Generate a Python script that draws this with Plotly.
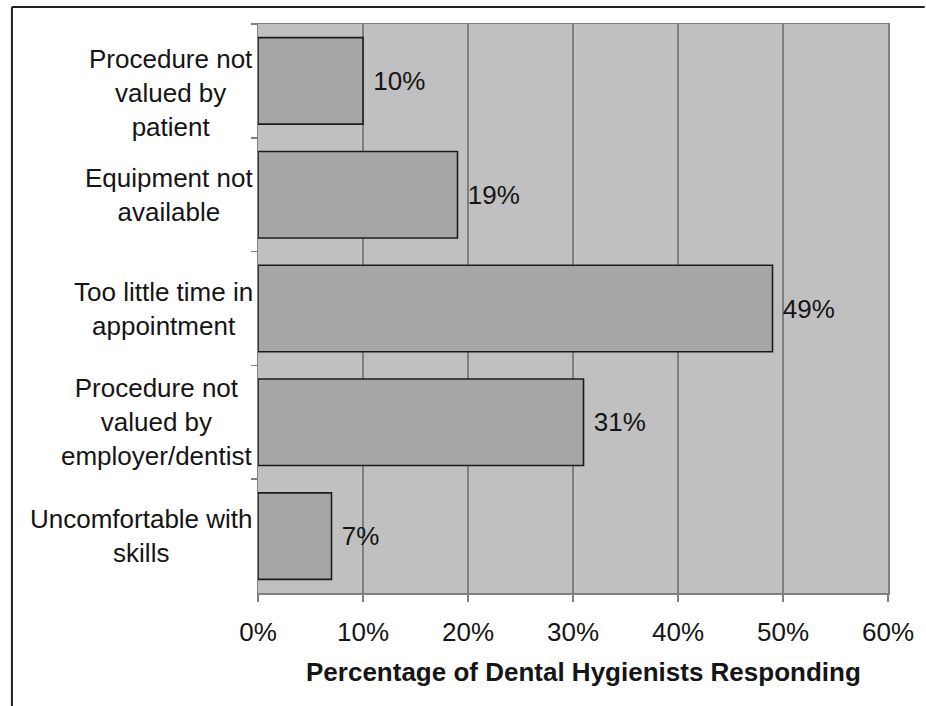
import plotly.graph_objects as go

categories = [
    "Procedure not<br>valued by<br>patient",
    "Equipment not<br>available",
    "Too little time in<br>appointment",
    "Procedure not<br>valued by<br>employer/dentist",
    "Uncomfortable with<br>skills",
]
values = [10, 19, 49, 31, 7]
x_ticks = [0, 10, 20, 30, 40, 50, 60]
x_title = "Percentage of Dental Hygienists Responding"

FONT = "Liberation Sans, Arial, sans-serif"
FS = 26
W, H = 926, 706
L, R, T, B = 258, 33, 24, 113
pw, ph = W - L - R, H - T - B

fig = go.Figure()
fig.add_trace(go.Bar(
    y=categories, x=values, orientation="h",
    marker=dict(color="#a6a6a6", line=dict(color="#1c1c1c", width=1.6)),
    text=[f" {v}%" for v in values], textposition="outside", cliponaxis=False,
    textfont=dict(family=FONT, size=FS, color="#151515"),
    width=0.76, showlegend=False, hoverinfo="skip",
))

annotations = []
for i, c in enumerate(categories):
    annotations.append(dict(
        x=0, xref="paper", y=c, yref="y", xanchor="right", yanchor="middle",
        xshift=-3, yshift=(-12 if i == 0 else 0), text=c, showarrow=False, align="center",
        font=dict(family=FONT, size=FS, color="#151515"),
    ))

def px(xp):
    return (xp - L) / pw

def py(yp):
    return (T + ph - yp) / ph

annotations.append(dict(
    x=px(586), xref="paper", y=py(672), yref="paper",
    xanchor="center", yanchor="middle", text="<b>" + x_title + "</b>",
    showarrow=False, font=dict(family=FONT, size=FS, color="#151515"),
))

shapes = [
    dict(type="line", xref="paper", yref="paper", x0=px(10), x1=px(930), y0=py(7), y1=py(7),
         line=dict(color="#202020", width=2)),
    dict(type="line", xref="paper", yref="paper", x0=px(10), x1=px(10), y0=py(7), y1=py(710),
         line=dict(color="#202020", width=2)),
]

fig.update_layout(
    width=W, height=H,
    margin=dict(l=L, r=R, t=T, b=B, pad=0),
    paper_bgcolor="white", plot_bgcolor="#c0c0c0",
    annotations=annotations, shapes=shapes,
    xaxis=dict(
        range=[0, 60], tickvals=x_ticks, ticktext=[f"{t}%" for t in x_ticks],
        showgrid=True, gridcolor="#7f7f7f", gridwidth=1.5,
        showline=True, linecolor="#808080", linewidth=1.5, mirror=True,
        ticks="outside", ticklen=7, tickcolor="#808080", tickwidth=1.5,
        tickfont=dict(family=FONT, size=FS, color="#151515"),
        ticklabelstandoff=8, zeroline=False, fixedrange=True,
    ),
    yaxis=dict(
        categoryorder="array", categoryarray=categories,
        range=[len(categories) - 0.5, -0.5], autorange=False,
        showticklabels=False, showgrid=False,
        showline=True, linecolor="#808080", linewidth=1.5, mirror=True,
        ticks="outside", tickson="boundaries", ticklen=6, tickcolor="#808080", tickwidth=1.5,
        fixedrange=True,
    ),
)

fig.write_html(
    "out.html",
    config={"displayModeBar": False, "staticPlot": True},
    post_script="document.body.style.margin='0';document.body.style.overflow='hidden';",
)
